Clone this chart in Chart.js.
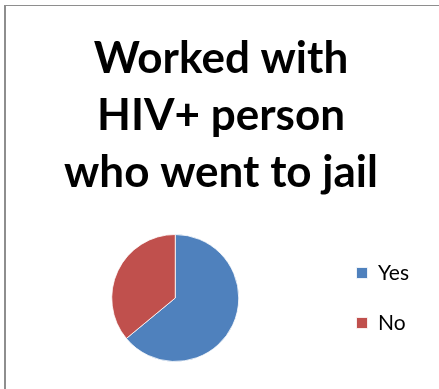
<!DOCTYPE html>
<html>
<head>
<meta charset="utf-8">
<script src="https://cdn.jsdelivr.net/npm/chart.js@4"></script>
<style>
  html, body { margin: 0; padding: 0; background: #fff; overflow: hidden; width: 439px; height: 389px; }
  #frame { position: absolute; left: 4px; top: 5px; width: 450px; height: 400px;
           border-left: 2px solid #8e8e8e; border-top: 1px solid #8e8e8e; box-sizing: border-box; }
  #c { position: absolute; left: 5px; top: 5px; }
</style>
</head>
<body>
<div id="frame"></div>
<canvas id="c" width="436" height="384"></canvas>
<script>
const categories = ['Yes', 'No'];
const values = [64, 36];
const titleLines = ['Worked with', 'HIV+ person', 'who went to jail'];
const sliceColors = ['#4F81BD', '#C0504D'];

new Chart(document.getElementById('c'), {
  type: 'pie',
  data: {
    labels: categories,
    datasets: [{
      data: values,
      backgroundColor: sliceColors,
      borderColor: '#ffffff',
      borderWidth: 0.8
    }]
  },
  options: {
    responsive: false,
    animation: false,
    radius: 63.5,
    layout: { padding: { left: 18, right: 22, top: 0, bottom: 22 } },
    plugins: {
      title: {
        display: true,
        text: titleLines,
        color: '#000',
        font: { family: 'Lato', weight: 'bold', size: 44, lineHeight: '57px' },
        padding: { top: 25, bottom: 28 }
      },
      legend: {
        display: true,
        position: 'right',
        fullSize: false,
        labels: {
          color: '#000',
          font: { family: 'Lato', size: 21 },
          boxWidth: 11,
          boxHeight: 11,
          padding: 29
        }
      },
      tooltip: { enabled: false }
    }
  }
});
</script>
</body>
</html>
